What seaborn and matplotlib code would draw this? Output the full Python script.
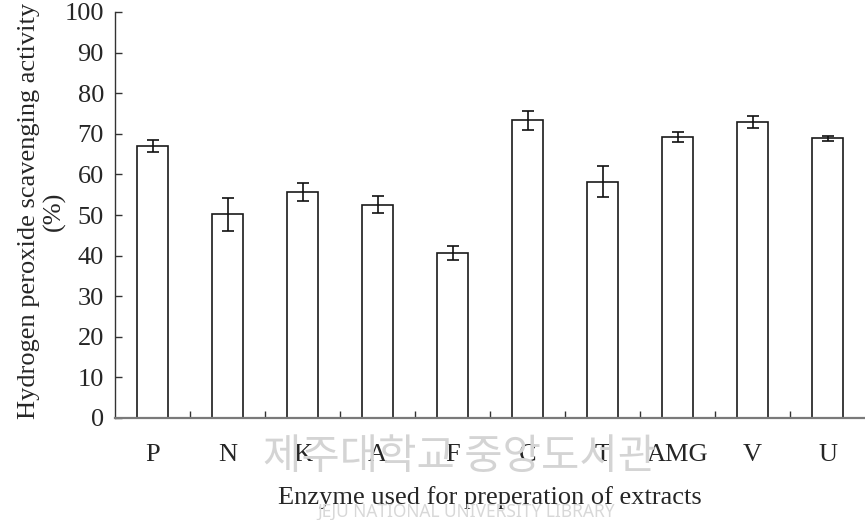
import matplotlib
matplotlib.use("Agg")
import matplotlib.pyplot as plt
import seaborn as sns
import pandas as pd
import numpy as np
from matplotlib.ticker import FixedLocator

categories = ["P", "N", "K", "A", "F", "C", "T", "AMG", "V", "U"]
values = [67.0, 50.2, 55.7, 52.5, 40.6, 73.3, 58.2, 69.3, 72.9, 68.9]
errors = [1.5, 4.1, 2.3, 2.1, 1.8, 2.4, 3.8, 1.2, 1.4, 0.6]
yticks = [0, 10, 20, 30, 40, 50, 60, 70, 80, 90, 100]

sns.set_theme(style="white")
plt.rcParams["font.family"] = ["Liberation Serif", "DejaVu Serif"]

FS = 19

df = pd.DataFrame({"enzyme": categories, "activity": values})

fig = plt.figure(figsize=(8.65, 5.2), dpi=100)
ax = fig.add_axes([115 / 865, 1 - 418 / 520, 750 / 865, 406 / 520])

sns.barplot(data=df, x="enzyme", y="activity", order=categories, color="white",
            edgecolor="#1a1a1a", linewidth=1.2, width=0.41, errorbar=None, ax=ax,
            zorder=2)
ax.errorbar(np.arange(len(categories)), values, yerr=errors, fmt="none",
            ecolor="#111111", elinewidth=1.2, capsize=4.2, capthick=1.2, zorder=3)

ax.set_xlim(-0.5, len(categories) - 0.5)
ax.set_ylim(0, 100)
ax.set_yticks(yticks)
ax.set_yticklabels([str(t) for t in yticks])
ax.tick_params(axis="y", direction="in", length=5, width=1.0, color="#333333",
               labelsize=FS, pad=8, left=True)
ax.tick_params(axis="x", which="major", length=0, labelsize=FS, pad=19)
ax.xaxis.set_minor_locator(FixedLocator(np.arange(0.5, len(categories) - 0.5, 1)))
ax.tick_params(axis="x", which="minor", direction="in", length=5, width=1.0,
               color="#333333", bottom=True)

for s in ["top", "right"]:
    ax.spines[s].set_visible(False)
ax.spines["left"].set_color("#333333")
ax.spines["left"].set_linewidth(1.0)
ax.spines["bottom"].set_color("#7a7a7a")
ax.spines["bottom"].set_linewidth(1.6)

ax.set_xlabel("Enzyme used for preperation of extracts", fontsize=FS)
ax.set_ylabel("Hydrogen peroxide scavenging activity\n(%)", fontsize=FS,
              linespacing=1.15)
ax.xaxis.set_label_coords((490 - 115) / 750, -(486 - 418) / 406)
ax.yaxis.set_label_coords(-(115 - 66) / 750, 0.51)

# library watermark
fig.text(460 / 865, 1 - 457 / 520, "제주대학교 중앙도서관", ha="center", va="center",
         fontsize=30, color="#d4d4d4", family=["Noto Sans CJK KR", "DejaVu Sans"],
         zorder=0)
fig.text(466 / 865, 1 - 512 / 520, "JEJU NATIONAL UNIVERSITY LIBRARY", ha="center",
         va="center", fontsize=12.5, color="#d8d8d8",
         family=["Noto Sans", "DejaVu Sans"], zorder=0)

fig.savefig("out.png", dpi=100)
